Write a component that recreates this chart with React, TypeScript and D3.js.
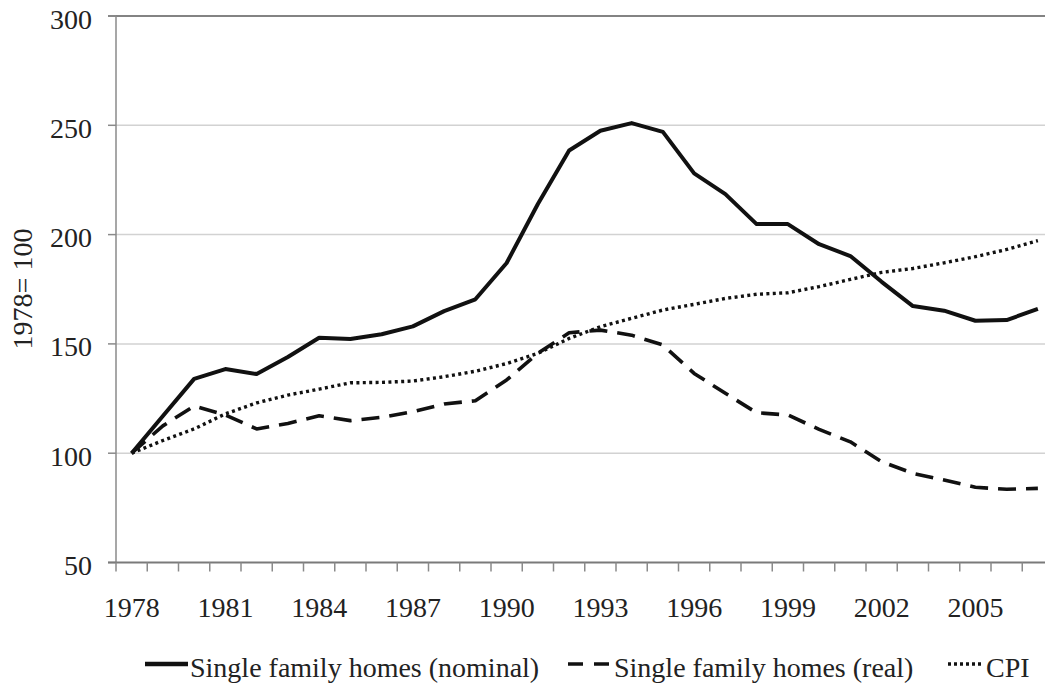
import React from 'react';
import * as d3 from 'd3';

// years on the category axis
const years = d3.range(1978, 2008).map(String);

// index values, 1978 = 100
const nominal = [100, 117, 134, 138.5, 136.2, 144, 152.8, 152.2, 154.4, 158, 165, 170.4, 187, 214, 238.5, 247.5, 251, 247, 228, 218.5, 204.8, 204.8, 195.6, 190.2, 178.4, 167.3, 165.2, 160.6, 160.9, 166];
const real = [100, 112.5, 121.6, 117.5, 111.1, 113.6, 117.1, 114.9, 116.4, 119, 122.5, 124, 133.5, 145.7, 155.1, 156.3, 154, 149.5, 136.5, 127.4, 118.5, 117.5, 110.9, 105.2, 96.1, 90.8, 87.7, 84.4, 83.5, 83.9];
const cpi = [100, 105.8, 111.1, 118, 123, 126.6, 129.3, 132.2, 132.4, 133, 135, 137.5, 141, 145.7, 152.5, 157.9, 161.7, 165.5, 168.1, 170.8, 172.7, 173.4, 176.2, 179.5, 182.7, 184.5, 187.1, 189.9, 193.2, 197.2];

const yTicks = [50, 100, 150, 200, 250, 300];
const xLabels = ['1978', '1981', '1984', '1987', '1990', '1993', '1996', '1999', '2002', '2005'];

const series = [
  { name: 'Single family homes (nominal)', values: nominal, width: 4, dash: null },
  { name: 'Single family homes (real)', values: real, width: 3.6, dash: '18,10' },
  { name: 'CPI', values: cpi, width: 3.4, dash: '3,3.4' },
];

const font = '"Liberation Serif", "Times New Roman", serif';

export default function App() {
  const W = 1045, H = 689;
  const left = 116, top = 16, bottom = 562.5;
  const step = 31.25;

  const x = d3.scaleBand().domain(years).range([left, left + step * years.length]);
  const y = d3.scaleLinear().domain([50, 300]).range([bottom, top]);
  const cx = (yr: string) => x(yr)! + x.bandwidth() / 2;

  const line = d3.line<number>()
    .x((d, i) => cx(years[i]))
    .y(d => y(d));

  // legend entries: sample start, sample end, text start
  const legendPos = [
    { x0: 145, x1: 188, tx: 190 },
    { x0: 568, x1: 609, tx: 614 },
    { x0: 948, x1: 981, tx: 986 },
  ];
  const legendY = 664;

  return (
    <svg width={W} height={H} style={{ position: 'absolute', left: 0, top: 0, background: '#fff' }}
      fontFamily={font}>
      <rect width={W} height={H} fill="#fff" />
      {/* gridlines */}
      {yTicks.filter(t => t !== 50 && t !== 300).map(t => (
        <line key={t} x1={left} x2={W} y1={y(t)} y2={y(t)} stroke="#d2d2d2" strokeWidth={1.5} />
      ))}
      <line x1={left - 8} x2={W} y1={y(300)} y2={y(300)} stroke="#5a5a5a" strokeWidth={1.5} />
      {/* y axis */}
      <line x1={left} x2={left} y1={top} y2={bottom} stroke="#8a8a8a" strokeWidth={1.5} />
      {yTicks.map(t => (
        <g key={t}>
          <line x1={left - 8} x2={left} y1={y(t)} y2={y(t)} stroke="#8a8a8a" strokeWidth={1.5} />
          <text x={92} y={y(t) + 12.5} textAnchor="end" fontSize={28} fill="#222">{t}</text>
        </g>
      ))}
      {/* x axis */}
      <line x1={left - 8} x2={W} y1={bottom} y2={bottom} stroke="#7a7a7a" strokeWidth={2.2} />
      {years.map(yr => (
        <line key={yr} x1={x(yr)!} x2={x(yr)!} y1={bottom} y2={bottom + 9} stroke="#8a8a8a" strokeWidth={1.5} />
      ))}
      {xLabels.map(l => (
        <text key={l} x={cx(l)} y={617} textAnchor="middle" fontSize={28} fill="#222">{l}</text>
      ))}
      <text transform={`translate(32,289) rotate(-90)`} textAnchor="middle" fontSize={28} fill="#222">1978= 100</text>
      {/* series */}
      {series.map(s => (
        <path key={s.name} d={line(s.values)!} fill="none" stroke="#111" strokeWidth={s.width}
          strokeDasharray={s.dash ?? undefined} strokeLinejoin="round" />
      ))}
      {/* legend */}
      {series.map((s, i) => (
        <g key={s.name}>
          <line x1={legendPos[i].x0} x2={legendPos[i].x1} y1={legendY} y2={legendY} stroke="#111"
            strokeWidth={i === 0 ? 4.5 : 3.6} strokeDasharray={i === 1 ? '15,11' : i === 2 ? '3,3' : undefined} />
          <text x={legendPos[i].tx} y={677} fontSize={28} fill="#222">{s.name}</text>
        </g>
      ))}
    </svg>
  );
}
